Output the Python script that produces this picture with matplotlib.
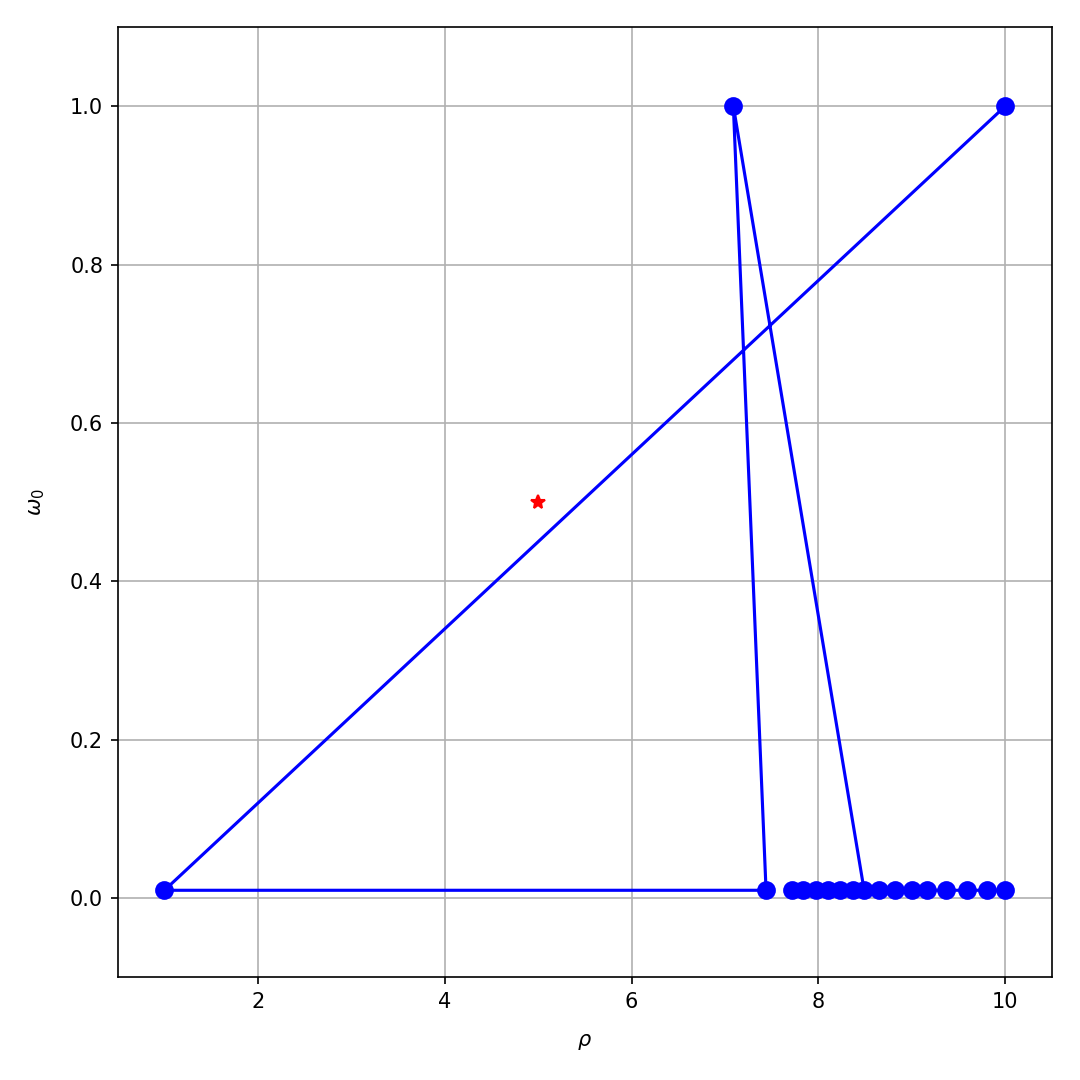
import matplotlib
matplotlib.use("Agg")
import matplotlib.pyplot as plt
import numpy as np

# path of visited points (rho, omega0)
rho = [10.0, 1.0, 7.44, 7.09, 8.49, 7.72, 7.84, 7.97, 8.10, 8.23, 8.37,
       8.65, 8.82, 9.00, 9.16, 9.37, 9.59, 9.81, 10.0]
omega = [1.0, 0.01, 0.01, 1.0, 0.01, 0.01, 0.01, 0.01, 0.01, 0.01, 0.01,
         0.01, 0.01, 0.01, 0.01, 0.01, 0.01, 0.01, 0.01]

# target point
star_rho = [5.0]
star_omega = [0.5]

fig, ax = plt.subplots(figsize=(7.2, 7.2), dpi=150)
fig.subplots_adjust(left=0.109, right=0.974, top=0.975, bottom=0.095)

ax.plot(rho, omega, 'bo-', markersize=8)
ax.plot(star_rho, star_omega, 'r*', markersize=7)

ax.set_xlim(0.5, 10.5)
ax.set_ylim(-0.1, 1.1)
ax.set_xlabel(r'$\rho$', labelpad=9.5)
ax.set_ylabel(r'$\omega_0$', labelpad=11)
ax.grid(True)

fig.savefig("out.png", dpi=150)
